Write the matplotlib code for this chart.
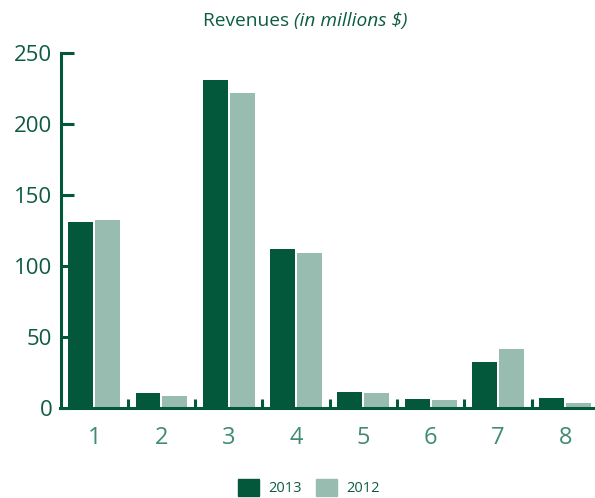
import matplotlib
matplotlib.use("Agg")
import matplotlib.pyplot as plt
from matplotlib.patches import Patch
import numpy as np

# revenue per segment, in millions $
categories = ["1", "2", "3", "4", "5", "6", "7", "8"]
rev_2013 = [131, 10, 231, 112, 11, 6, 32, 7]
rev_2012 = [132, 8, 222, 109, 10, 5, 41, 3]
series_labels = ["2013", "2012"]
yticks = [0, 50, 100, 150, 200, 250]

DARK = "#03573B"
LIGHT = "#99BCB0"
TEXT_DARK = "#0D5C42"
TEXT_LIGHT = "#3F8B73"

plt.rcParams["font.family"] = ["Open Sans", "DejaVu Sans"]

fig = plt.figure(figsize=(5.95, 4.98), dpi=100)
ax = fig.add_axes([60.5 / 595, 90.5 / 498, 1 - 60.5 / 595, 354.2 / 498])

x = np.arange(len(categories))
w = 0.371
off = 0.2
ax.bar(x - off, rev_2013, width=w, color=DARK, linewidth=0)
ax.bar(x + off, rev_2012, width=w, color=LIGHT, linewidth=0)

ax.set_xlim(-0.5, 7.44)
ax.set_ylim(0, 250)

for s in ["top", "right"]:
    ax.spines[s].set_visible(False)
for s in ["left", "bottom"]:
    ax.spines[s].set_color(DARK)
    ax.spines[s].set_linewidth(2.2)

ax.set_yticks(yticks)
ax.tick_params(axis="y", direction="in", length=9, width=2.2, color=DARK,
               labelcolor=TEXT_DARK, labelsize=16, pad=6)

# labels at the group centres, tick marks at the group boundaries
ax.set_xticks(x)
ax.set_xticklabels(categories)
ax.set_xticks(x[:-1] + 0.5, minor=True)
ax.tick_params(axis="x", which="major", length=0, labelcolor=TEXT_LIGHT,
               labelsize=17, pad=13)
ax.tick_params(axis="x", which="minor", direction="in", length=6.5, width=2.2,
               color=DARK)

# title: plain part + italic part
fig.text(0.494, 0.958, "Revenues ", ha="right", va="center", fontsize=13.8,
         color=TEXT_DARK)
fig.text(0.494, 0.958, "(in millions $)", ha="left", va="center", fontsize=13.8,
         color=TEXT_DARK, style="italic")

handles = [Patch(color=DARK), Patch(color=LIGHT)]
leg = fig.legend(handles, series_labels, loc="center",
                 bbox_to_anchor=(309 / 595, 10.5 / 498), ncol=2, frameon=False,
                 fontsize=10.5, handlelength=1.45, handleheight=1.45,
                 handletextpad=0.6, columnspacing=1.0, borderpad=0)
for t in leg.get_texts():
    t.set_color(TEXT_DARK)

fig.savefig("out.png", dpi=100)
